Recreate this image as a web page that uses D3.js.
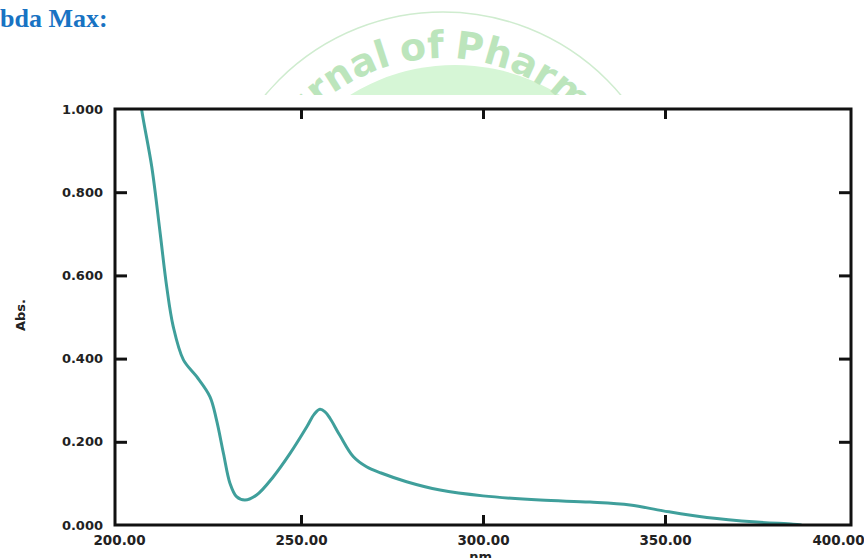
<!DOCTYPE html>
<html>
<head>
<meta charset="utf-8">
<script src="https://cdn.jsdelivr.net/npm/d3@7"></script>
<style>
  body { margin: 0; background: #fff; }
  svg { display: block; }
  .tick text { font-family: "DejaVu Sans", sans-serif; font-weight: bold; fill: #222; }
</style>
</head>
<body>
<div id="chart"></div>
<script>
// spectrum
var wavelength = [205.6, 206.2, 209.0, 211.3, 213.1, 214.9, 217.7, 221.3, 225.0, 226.8,
  228.7, 230.5, 232.3, 234.6, 237.8, 242.4, 247.0, 251.6, 253.6, 255.2, 256.6, 258.0,
  260.7, 264.4, 268.0, 272.0, 279.0, 288.2, 300.0, 315.7, 329.4, 340.4,
  349.5, 361.5, 375.2, 385.2, 387.5];
var absorbance = [1.05, 1.00, 0.861, 0.702, 0.573, 0.477, 0.397, 0.357, 0.308, 0.252,
  0.172, 0.100, 0.068, 0.060, 0.072, 0.116, 0.172, 0.236, 0.266, 0.278, 0.272, 0.256,
  0.215, 0.164, 0.140, 0.125, 0.104, 0.084, 0.070, 0.060, 0.055, 0.048,
  0.034, 0.018, 0.007, 0.002, 0.000];
var xTicks = [200, 250, 300, 350, 400];
var yTicks = [0, 0.2, 0.4, 0.6, 0.8, 1.0];

var width = 864, height = 558;
var svg = d3.select("#chart").append("svg")
  .attr("width", width)
  .attr("height", height);

// watermark behind the chart
var wm = svg.append("g");
wm.append("circle")
  .attr("cx", 455).attr("cy", 264).attr("r", 199)
  .style("fill", "#d6f6d6");
wm.append("circle")
  .attr("cx", 443).attr("cy", 244).attr("r", 232)
  .style("fill", "none").style("stroke", "#cfeccf").style("stroke-width", 1.5);
var r = 186;
wm.append("path")
  .attr("id", "wmArc")
  .attr("d", "M" + (443 - r) + ",244 A" + r + "," + r + " 0 0 1 " + (443 + r) + ",244")
  .style("fill", "none");
var probe = wm.append("text")
  .style("font-family", "DejaVu Sans").style("font-weight", "bold").style("font-size", "38px")
  .style("word-spacing", "-3px");
probe.text("Journal of P");
var w1 = probe.node().getComputedTextLength();
probe.text("P");
var w2 = probe.node().getComputedTextLength();
probe.remove();
wm.append("text")
  .style("font-family", "DejaVu Sans").style("font-weight", "bold").style("font-size", "38px")
  .style("word-spacing", "-3px")
  .style("fill", "#bce5bc")
  .append("textPath")
  .attr("href", "#wmArc")
  .attr("startOffset", r * (Math.PI / 2 + 0.06) - (w1 - w2))
  .text("Journal of Pharmaceutical");

// chart image background
svg.append("rect")
  .attr("x", 0).attr("y", 95).attr("width", width).attr("height", height - 95)
  .style("fill", "#fff");

svg.append("text")
  .attr("x", 0).attr("y", 27)
  .style("font-family", "Liberation Serif").style("font-weight", "bold").style("font-size", "26px")
  .style("fill", "#1873c3")
  .text("bda Max:");

var x = d3.scaleLinear().domain([198.9, 401.1]).range([115, 851]);
var y = d3.scaleLinear().domain([0, 1]).range([525, 109]);

svg.append("clipPath").attr("id", "plot")
  .append("rect")
  .attr("x", x.range()[0]).attr("y", y.range()[1])
  .attr("width", x.range()[1] - x.range()[0])
  .attr("height", y.range()[0] - y.range()[1]);

var line = d3.line()
  .x(function(d, i) { return x(wavelength[i]); })
  .y(function(d) { return y(d); })
  .curve(d3.curveCatmullRom);

svg.append("path")
  .datum(absorbance)
  .attr("clip-path", "url(#plot)")
  .attr("d", line)
  .style("fill", "none")
  .style("stroke", "#3f9f9b")
  .style("stroke-width", 3);

// axes with inward ticks
var bottom = svg.append("g")
  .attr("transform", "translate(0," + y(0) + ")")
  .call(d3.axisBottom(x).tickValues(xTicks).tickFormat(d3.format(".2f"))
    .tickSizeInner(-10).tickSizeOuter(0).tickPadding(10));
bottom.selectAll("text").style("font-size", "13.5px");
bottom.selectAll(".tick").filter(function(d) { return d == 200 || d == 400; }).select("line").remove();
bottom.selectAll(".tick").filter(function(d) { return d == 400; }).select("text").attr("dx", -9);

svg.append("g")
  .attr("transform", "translate(0," + y(1) + ")")
  .call(d3.axisTop(x).tickValues(xTicks.slice(1, 4)).tickFormat("")
    .tickSizeInner(-10).tickSizeOuter(0));

var left = svg.append("g")
  .attr("transform", "translate(" + x.range()[0] + ",0)")
  .call(d3.axisLeft(y).tickValues(yTicks).tickFormat(d3.format(".3f"))
    .tickSizeInner(-12).tickSizeOuter(0).tickPadding(12));
left.selectAll("text").style("font-size", "13px");
left.selectAll(".tick").filter(function(d) { return d == 0 || d == 1; }).select("line").remove();

svg.append("g")
  .attr("transform", "translate(" + x.range()[1] + ",0)")
  .call(d3.axisRight(y).tickValues(yTicks.slice(1, 5)).tickFormat("")
    .tickSizeInner(-12).tickSizeOuter(0));

svg.selectAll(".domain").remove();
svg.selectAll(".tick line").style("stroke", "#111").style("stroke-width", 3);

svg.append("rect")
  .attr("x", x.range()[0]).attr("y", y.range()[1])
  .attr("width", x.range()[1] - x.range()[0])
  .attr("height", y.range()[0] - y.range()[1])
  .style("fill", "none").style("stroke", "#111").style("stroke-width", 3);

svg.append("text")
  .attr("transform", "translate(25,315) rotate(-90)")
  .attr("text-anchor", "middle")
  .style("font-family", "DejaVu Sans").style("font-weight", "bold").style("font-size", "13px")
  .style("fill", "#222")
  .text("Abs.");

svg.append("text")
  .attr("x", x(300)).attr("y", 561)
  .attr("text-anchor", "middle")
  .style("font-family", "DejaVu Sans").style("font-weight", "bold").style("font-size", "13px")
  .style("fill", "#222")
  .text("nm.");
</script>
</body>
</html>
